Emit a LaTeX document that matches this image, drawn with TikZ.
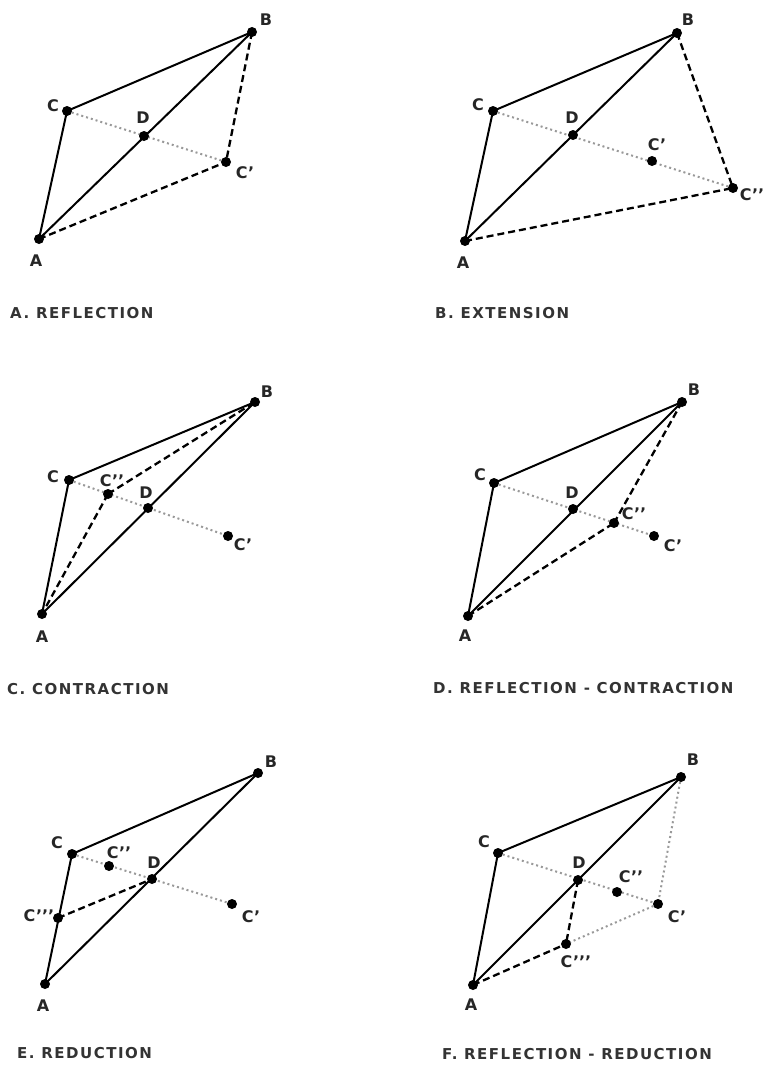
\documentclass[tikz,border=0pt]{standalone}
\usepackage{fontspec}
\newfontfamily\lblfam{DejaVu Sans}
\newfontfamily\capfam[LetterSpace=10]{DejaVu Sans}
\usetikzlibrary{backgrounds}
\tikzset{
  pt/.style={circle, fill=black, inner sep=0pt, minimum size=10pt},
  lbl/.style={font=\lblfam\bfseries\fontsize{16}{16}\selectfont, inner sep=0pt, text=black!85},
  captxt/.style={font=\capfam\bfseries\fontsize{15}{15}\selectfont, anchor=west, inner sep=0pt, text=black!80},
  solidln/.style={line width=2pt, black},
  dashln/.style={line width=2.3pt, black, dash pattern=on 7pt off 4pt},
  dotln/.style={line width=2pt, black!40, dash pattern=on 2pt off 3pt}
}
\begin{document}
\begin{tikzpicture}[x=1pt,y=-1pt]
\useasboundingbox (0,0) rectangle (765,1065);
% ---------------- Panel A: reflection
\node[pt] (aA) at (39,239) {};
\node[pt] (aB) at (252,32) {};
\node[pt] (aC) at (67,111) {};
\node[pt] (aD) at (144,136) {};
\node[pt] (aC1) at (226,162) {};
\node[lbl] (laA) at (36,261) {A};
\node[lbl] (laB) at (266,20) {B};
\node[lbl] (laC) at (53,106) {C};
\node[lbl] (laD) at (143,118) {D};
\node[lbl] (laC1) at (245,173) {C’};
\node[captxt] (capA) at (10,313) {A. REFLECTION};
% ---------------- Panel B: extension
\node[pt] (bA) at (465,241) {};
\node[pt] (bB) at (677,33) {};
\node[pt] (bC) at (493,111) {};
\node[pt] (bD) at (573,135) {};
\node[pt] (bC1) at (652,161) {};
\node[pt] (bC2) at (733,188) {};
\node[lbl] (lbA) at (463,263) {A};
\node[lbl] (lbB) at (688,20) {B};
\node[lbl] (lbC) at (478,105) {C};
\node[lbl] (lbD) at (572,118) {D};
\node[lbl] (lbC1) at (657,145) {C’};
\node[lbl] (lbC2) at (752,195) {C’’};
\node[captxt] (capB) at (435,313) {B. EXTENSION};
% ---------------- Panel C: contraction
\node[pt] (cA) at (42,614) {};
\node[pt] (cB) at (255,402) {};
\node[pt] (cC) at (69,480) {};
\node[pt] (cC2) at (108,494) {};
\node[pt] (cD) at (148,508) {};
\node[pt] (cC1) at (228,536) {};
\node[lbl] (lcA) at (42,637) {A};
\node[lbl] (lcB) at (267,392) {B};
\node[lbl] (lcC) at (53,477) {C};
\node[lbl] (lcC2) at (112,481) {C’’};
\node[lbl] (lcD) at (146,493) {D};
\node[lbl] (lcC1) at (243,545) {C’};
\node[captxt] (capC) at (7,689) {C. CONTRACTION};
% ---------------- Panel D: reflection-contraction
\node[pt] (dA) at (468,616) {};
\node[pt] (dB) at (682,402) {};
\node[pt] (dC) at (494,483) {};
\node[pt] (dD) at (573,509) {};
\node[pt] (dC2) at (614,523) {};
\node[pt] (dC1) at (654,536) {};
\node[lbl] (ldA) at (465,636) {A};
\node[lbl] (ldB) at (694,390) {B};
\node[lbl] (ldC) at (480,475) {C};
\node[lbl] (ldD) at (572,493) {D};
\node[lbl] (ldC2) at (634,514) {C’’};
\node[lbl] (ldC1) at (673,546) {C’};
\node[captxt] (capD) at (433,688) {D. REFLECTION - CONTRACTION};
% ---------------- Panel E: reduction
\node[pt] (eA) at (45,984) {};
\node[pt] (eB) at (258,773) {};
\node[pt] (eC) at (72,854) {};
\node[pt] (eC2) at (109,866) {};
\node[pt] (eD) at (152,879) {};
\node[pt] (eC1) at (232,904) {};
\node[pt] (eC3) at (58,918) {};
\node[lbl] (leA) at (43,1006) {A};
\node[lbl] (leB) at (271,762) {B};
\node[lbl] (leC) at (57,843) {C};
\node[lbl] (leC2) at (119,853) {C’’};
\node[lbl] (leD) at (154,863) {D};
\node[lbl] (leC1) at (251,917) {C’};
\node[lbl] (leC3) at (39,916) {C’’’};
\node[captxt] (capE) at (17,1053) {E. REDUCTION};
% ---------------- Panel F: reflection-reduction
\node[pt] (fA) at (473,985) {};
\node[pt] (fB) at (681,777) {};
\node[pt] (fC) at (498,853) {};
\node[pt] (fD) at (578,880) {};
\node[pt] (fC2) at (617,892) {};
\node[pt] (fC1) at (658,904) {};
\node[pt] (fC3) at (566,944) {};
\node[lbl] (lfA) at (471,1005) {A};
\node[lbl] (lfB) at (693,760) {B};
\node[lbl] (lfC) at (484,842) {C};
\node[lbl] (lfD) at (579,863) {D};
\node[lbl] (lfC2) at (631,877) {C’’};
\node[lbl] (lfC1) at (677,917) {C’};
\node[lbl] (lfC3) at (576,962) {C’’’};
\node[captxt] (capF) at (442,1054) {F. REFLECTION - REDUCTION};
% ---------------- connectors
\begin{scope}[on background layer]
\fill[white] (0,0) rectangle (765,1065);
% A
\draw[solidln] (aC.center) -- (aB.center);
\draw[solidln] (aC.center) -- (aA.center);
\draw[solidln] (aA.center) -- (aB.center);
\draw[dotln] (aC.center) -- (aC1.center);
\draw[dashln] (aB.center) -- (aC1.center);
\draw[dashln] (aA.center) -- (aC1.center);
% B
\draw[solidln] (bC.center) -- (bB.center);
\draw[solidln] (bC.center) -- (bA.center);
\draw[solidln] (bA.center) -- (bB.center);
\draw[dotln] (bC.center) -- (bC2.center);
\draw[dashln] (bB.center) -- (bC2.center);
\draw[dashln] (bA.center) -- (bC2.center);
% C
\draw[solidln] (cC.center) -- (cB.center);
\draw[solidln] (cC.center) -- (cA.center);
\draw[solidln] (cA.center) -- (cB.center);
\draw[dotln] (cC.center) -- (cC1.center);
\draw[dashln] (cC2.center) -- (cB.center);
\draw[dashln] (cC2.center) -- (cA.center);
% D
\draw[solidln] (dC.center) -- (dB.center);
\draw[solidln] (dC.center) -- (dA.center);
\draw[solidln] (dA.center) -- (dB.center);
\draw[dotln] (dC.center) -- (dC1.center);
\draw[dashln] (dB.center) -- (dC2.center);
\draw[dashln] (dA.center) -- (dC2.center);
% E
\draw[solidln] (eC.center) -- (eB.center);
\draw[solidln] (eC.center) -- (eA.center);
\draw[solidln] (eA.center) -- (eB.center);
\draw[dotln] (eC.center) -- (eC1.center);
\draw[dashln] (eC3.center) -- (eD.center);
% F
\draw[solidln] (fC.center) -- (fB.center);
\draw[solidln] (fC.center) -- (fA.center);
\draw[solidln] (fA.center) -- (fB.center);
\draw[dotln] (fC.center) -- (fC1.center);
\draw[dotln] (fB.center) -- (fC1.center);
\draw[dotln] (fC1.center) -- (fC3.center);
\draw[dashln] (fD.center) -- (fC3.center);
\draw[dashln] (fA.center) -- (fC3.center);
\end{scope}
\end{tikzpicture}
\end{document}
